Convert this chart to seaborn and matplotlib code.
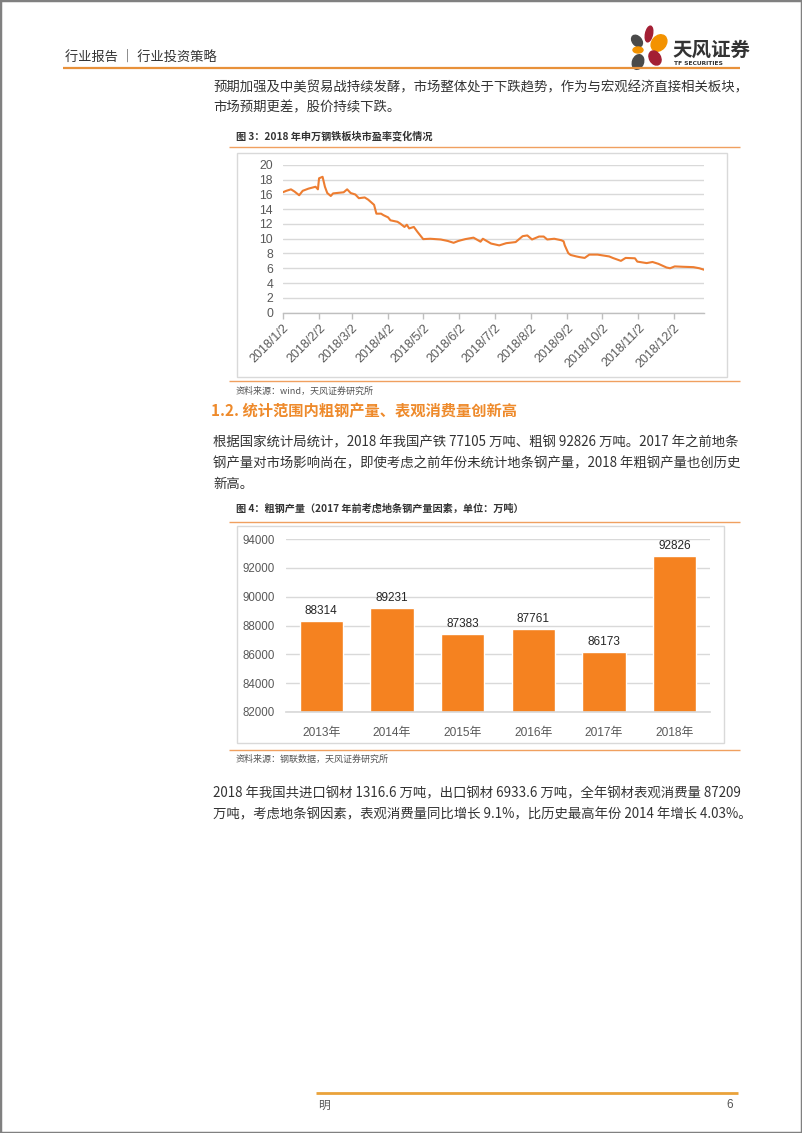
import numpy as np
import pandas as pd
import matplotlib
matplotlib.use("Agg")
import matplotlib.pyplot as plt
from matplotlib.patches import Rectangle, Ellipse
from matplotlib.lines import Line2D
from matplotlib.transforms import IdentityTransform
import seaborn as sns

# ---------------- data ----------------
pe_dates = ["2018-01-02", "2018-01-05", "2018-01-09", "2018-01-12", "2018-01-16", "2018-01-19",
            "2018-01-24", "2018-01-30", "2018-02-01", "2018-02-02", "2018-02-05", "2018-02-07",
            "2018-02-09", "2018-02-12", "2018-02-14", "2018-02-23", "2018-02-26", "2018-03-01",
            "2018-03-05", "2018-03-08", "2018-03-13", "2018-03-16", "2018-03-21", "2018-03-23",
            "2018-03-27", "2018-03-29", "2018-04-02", "2018-04-04", "2018-04-10", "2018-04-12",
            "2018-04-16", "2018-04-18", "2018-04-20", "2018-04-24", "2018-04-27", "2018-05-02",
            "2018-05-08", "2018-05-17", "2018-05-23", "2018-05-28", "2018-06-01", "2018-06-07",
            "2018-06-14", "2018-06-20", "2018-06-22", "2018-06-29", "2018-07-06", "2018-07-12",
            "2018-07-20", "2018-07-26", "2018-07-30", "2018-08-03", "2018-08-09", "2018-08-13",
            "2018-08-16", "2018-08-22", "2018-08-28", "2018-08-30", "2018-08-31", "2018-09-03",
            "2018-09-05", "2018-09-10", "2018-09-13", "2018-09-17", "2018-09-21", "2018-09-28",
            "2018-10-08", "2018-10-11", "2018-10-18", "2018-10-22", "2018-10-30", "2018-11-01",
            "2018-11-09", "2018-11-14", "2018-11-19", "2018-11-26", "2018-11-29", "2018-12-03",
            "2018-12-10", "2018-12-19", "2018-12-24", "2018-12-28"]
pe_values = [16.3, 16.5, 16.7, 16.4, 15.9, 16.5,
             16.8, 17.05, 16.7, 18.2, 18.4, 17.05,
             16.2, 15.8, 16.15, 16.3, 16.7, 16.2,
             16.0, 15.5, 15.6, 15.3, 14.6, 13.4,
             13.4, 13.2, 12.9, 12.5, 12.3, 12.1,
             11.6, 11.9, 11.4, 11.6, 10.95, 9.95,
             10.0, 9.9, 9.7, 9.45, 9.7, 9.95,
             10.15, 9.6, 10.0, 9.35, 9.1, 9.4,
             9.55, 10.35, 10.45, 9.9, 10.3, 10.3,
             9.9, 10.0, 9.8, 9.65, 9.1, 8.05,
             7.8, 7.6, 7.5, 7.4, 7.85, 7.85,
             7.6, 7.4, 7.0, 7.4, 7.35, 6.9,
             6.7, 6.85, 6.6, 6.1, 6.0, 6.25,
             6.2, 6.15, 6.0, 5.8]
month_ticks = ["2018-01-02", "2018-02-02", "2018-03-02", "2018-04-02", "2018-05-02", "2018-06-02",
               "2018-07-02", "2018-08-02", "2018-09-02", "2018-10-02", "2018-11-02", "2018-12-02"]
month_tick_labels = ["2018/1/2", "2018/2/2", "2018/3/2", "2018/4/2", "2018/5/2", "2018/6/2",
                     "2018/7/2", "2018/8/2", "2018/9/2", "2018/10/2", "2018/11/2", "2018/12/2"]
pe_yticks = [0, 2, 4, 6, 8, 10, 12, 14, 16, 18, 20]

years = ["2013年", "2014年", "2015年", "2016年", "2017年", "2018年"]
steel_output = [88314, 89231, 87383, 87761, 86173, 92826]
bar_yticks = [82000, 84000, 86000, 88000, 90000, 92000, 94000]

# ---------------- style ----------------
sns.set_theme(style="white")
plt.rcParams['font.family'] = ['Noto Sans CJK SC', 'DejaVu Sans']
TICKFONT = ['Liberation Sans', 'Noto Sans CJK SC']

W, H = 802, 1133
fig = plt.figure(figsize=(W / 100, H / 100), dpi=100)
fig.patch.set_facecolor('white')


def fx(x):
    return x / W


def fy(y):
    return 1 - y / H


def hline(x0, x1, y, color, lw):
    fig.add_artist(Line2D([fx(x0), fx(x1)], [fy(y), fy(y)], color=color, lw=lw,
                          transform=fig.transFigure, solid_capstyle='butt'))


def box(x0, y0, x1, y1, color, lw):
    fig.add_artist(Rectangle((fx(x0), fy(y1)), fx(x1) - fx(x0), fy(y0) - fy(y1), fill=False,
                             edgecolor=color, lw=lw, transform=fig.transFigure))


def txt(x, y, s, size, color='#333333', weight='normal', ha='left', family=None):
    kw = {}
    if family is not None:
        kw['family'] = family
    fig.text(fx(x), fy(y), s, fontsize=size, color=color, fontweight=weight, ha=ha, va='center', **kw)


# page border
fig.add_artist(Rectangle((0, 0), 1, 1, fill=False, edgecolor='#808080', lw=2.5, transform=fig.transFigure))

# ---------------- header ----------------
txt(65, 57, "行业报告 ｜ 行业投资策略", 9.5, color='#333333')
hline(63, 740, 68, '#E8913A', 1.6)

petals = [  # (cx, cy, w, h, angle, color)
    (649, 34, 7, 16, -12, '#A31F34'),
    (637, 41, 9, 13, 40, '#4A4A4A'),
    (659, 43, 14, 18, -40, '#F39200'),
    (638, 50, 10, 6, 0, '#F39200'),
    (655, 58, 11, 15, 30, '#A31F34'),
    (638, 62, 11, 15, -20, '#4A4A4A'),
]
for cx, cy, w, h, ang, c in petals:
    fig.add_artist(Ellipse((cx, H - cy), w, h, angle=ang, color=c, transform=IdentityTransform()))
txt(672, 50, "天风证券", 14, color='#333333', weight='bold')
txt(674, 63.5, "TF SECURITIES", 4.3, color='#333333', weight='bold', family=['DejaVu Sans'])

# ---------------- paragraph 1 ----------------
BODY = 9.65
txt(213, 87, "预期加强及中美贸易战持续发酵，市场整体处于下跌趋势，作为与宏观经济直接相关板块，", BODY)
txt(213, 107, "市场预期更差，股价持续下跌。", BODY)

# ---------------- figure 3 ----------------
txt(236, 136, "图 3：2018 年申万钢铁板块市盈率变化情况", 7.3, weight='bold')
hline(229, 740, 147, '#F0A060', 1.0)
box(237, 153, 727, 377, '#D9D9D9', 1.0)

ax1 = fig.add_axes([fx(282.8), fy(312.5), fx(704) - fx(282.8), fy(165) - fy(312.5)])
df1 = pd.DataFrame({'date': pd.to_datetime(pe_dates), 'pe': pe_values})
sns.lineplot(data=df1, x='date', y='pe', ax=ax1, color='#ED7D31', lw=1.5)
ax1.set_xlim(pd.Timestamp('2018-01-02'), pd.Timestamp('2018-12-28'))
ax1.set_ylim(0, 20)
ax1.set_yticks(pe_yticks)
ax1.set_yticklabels([str(v) for v in pe_yticks])
ax1.set_xticks(pd.to_datetime(month_ticks))
ax1.set_xticklabels(month_tick_labels, rotation=45, ha='right', rotation_mode='anchor')
ax1.grid(axis='y', color='#D9D9D9', lw=1)
ax1.grid(axis='x', visible=False)
ax1.set_axisbelow(True)
for s in ['top', 'right', 'left']:
    ax1.spines[s].set_visible(False)
ax1.spines['bottom'].set_color('#BFBFBF')
ax1.spines['bottom'].set_linewidth(1)
ax1.tick_params(axis='x', bottom=True, length=4, width=1, color='#BFBFBF', pad=3,
                labelsize=9.0, labelcolor='#595959')
ax1.tick_params(axis='y', left=False, length=0, pad=7, labelsize=8.8, labelcolor='#595959')
ax1.set_xlabel('')
ax1.set_ylabel('')
for lbl in ax1.get_xticklabels() + ax1.get_yticklabels():
    lbl.set_fontfamily(TICKFONT)

hline(229, 740, 381, '#F0A060', 1.0)
txt(236, 391, "资料来源：wind，天风证券研究所", 6.5, color='#555555')

# ---------------- section heading & paragraph ----------------
txt(211, 411, "1.2. 统计范围内粗钢产量、表观消费量创新高", 11.0, color='#EE8A2B', weight='bold')
txt(213, 442, "根据国家统计局统计，2018 年我国产铁 77105 万吨、粗钢 92826 万吨。2017 年之前地条", BODY)
txt(213, 463, "钢产量对市场影响尚在，即使考虑之前年份未统计地条钢产量，2018 年粗钢产量也创历史", BODY)
txt(213, 484, "新高。", BODY)

# ---------------- figure 4 ----------------
txt(236, 509, "图 4：粗钢产量（2017 年前考虑地条钢产量因素，单位：万吨）", 7.3, weight='bold')
hline(229, 740, 522, '#F0A060', 1.0)
box(237, 526, 724, 743, '#D9D9D9', 1.0)

ax2 = fig.add_axes([fx(286), fy(712), fx(710) - fx(286), fy(539) - fy(712)])
df2 = pd.DataFrame({'year': years, 'output': steel_output})
sns.barplot(data=df2, x='year', y='output', ax=ax2, color='#F58220', saturation=1, width=0.615)
ax2.set_ylim(82000, 94000)
ax2.set_xlim(-0.5, 5.5)
ax2.set_yticks(bar_yticks)
ax2.set_yticklabels([str(v) for v in bar_yticks])
ax2.bar_label(ax2.containers[0], labels=[str(v) for v in steel_output], padding=3,
              fontsize=8.5, color='#262626', family=TICKFONT)
ax2.grid(axis='y', color='#D9D9D9', lw=1)
ax2.grid(axis='x', visible=False)
ax2.set_axisbelow(True)
for s in ['top', 'right', 'left']:
    ax2.spines[s].set_visible(False)
ax2.spines['bottom'].set_color('#D9D9D9')
ax2.tick_params(axis='x', bottom=False, length=0, pad=11, labelsize=8.6, labelcolor='#595959')
ax2.tick_params(axis='y', left=False, length=0, pad=8, labelsize=8.3, labelcolor='#595959')
ax2.set_xlabel('')
ax2.set_ylabel('')
for lbl in ax2.get_xticklabels() + ax2.get_yticklabels():
    lbl.set_fontfamily(TICKFONT)

hline(229, 740, 750, '#F0A060', 1.0)
txt(236, 759, "资料来源：钢联数据，天风证券研究所", 6.5, color='#555555')

# ---------------- paragraph 3 ----------------
txt(213, 793, "2018 年我国共进口钢材 1316.6 万吨，出口钢材 6933.6 万吨，全年钢材表观消费量 87209", BODY)
txt(213, 814, "万吨，考虑地条钢因素，表观消费量同比增长 9.1%，比历史最高年份 2014 年增长 4.03%。", BODY)

# ---------------- footer ----------------
hline(316, 738, 1093, '#EAA23A', 2.0)
txt(318, 1105, "明", 8.5, color='#555555')
txt(733, 1105, "6", 8.5, color='#555555', ha='right', family=TICKFONT)

fig.savefig("out.png", dpi=100, facecolor='white')
